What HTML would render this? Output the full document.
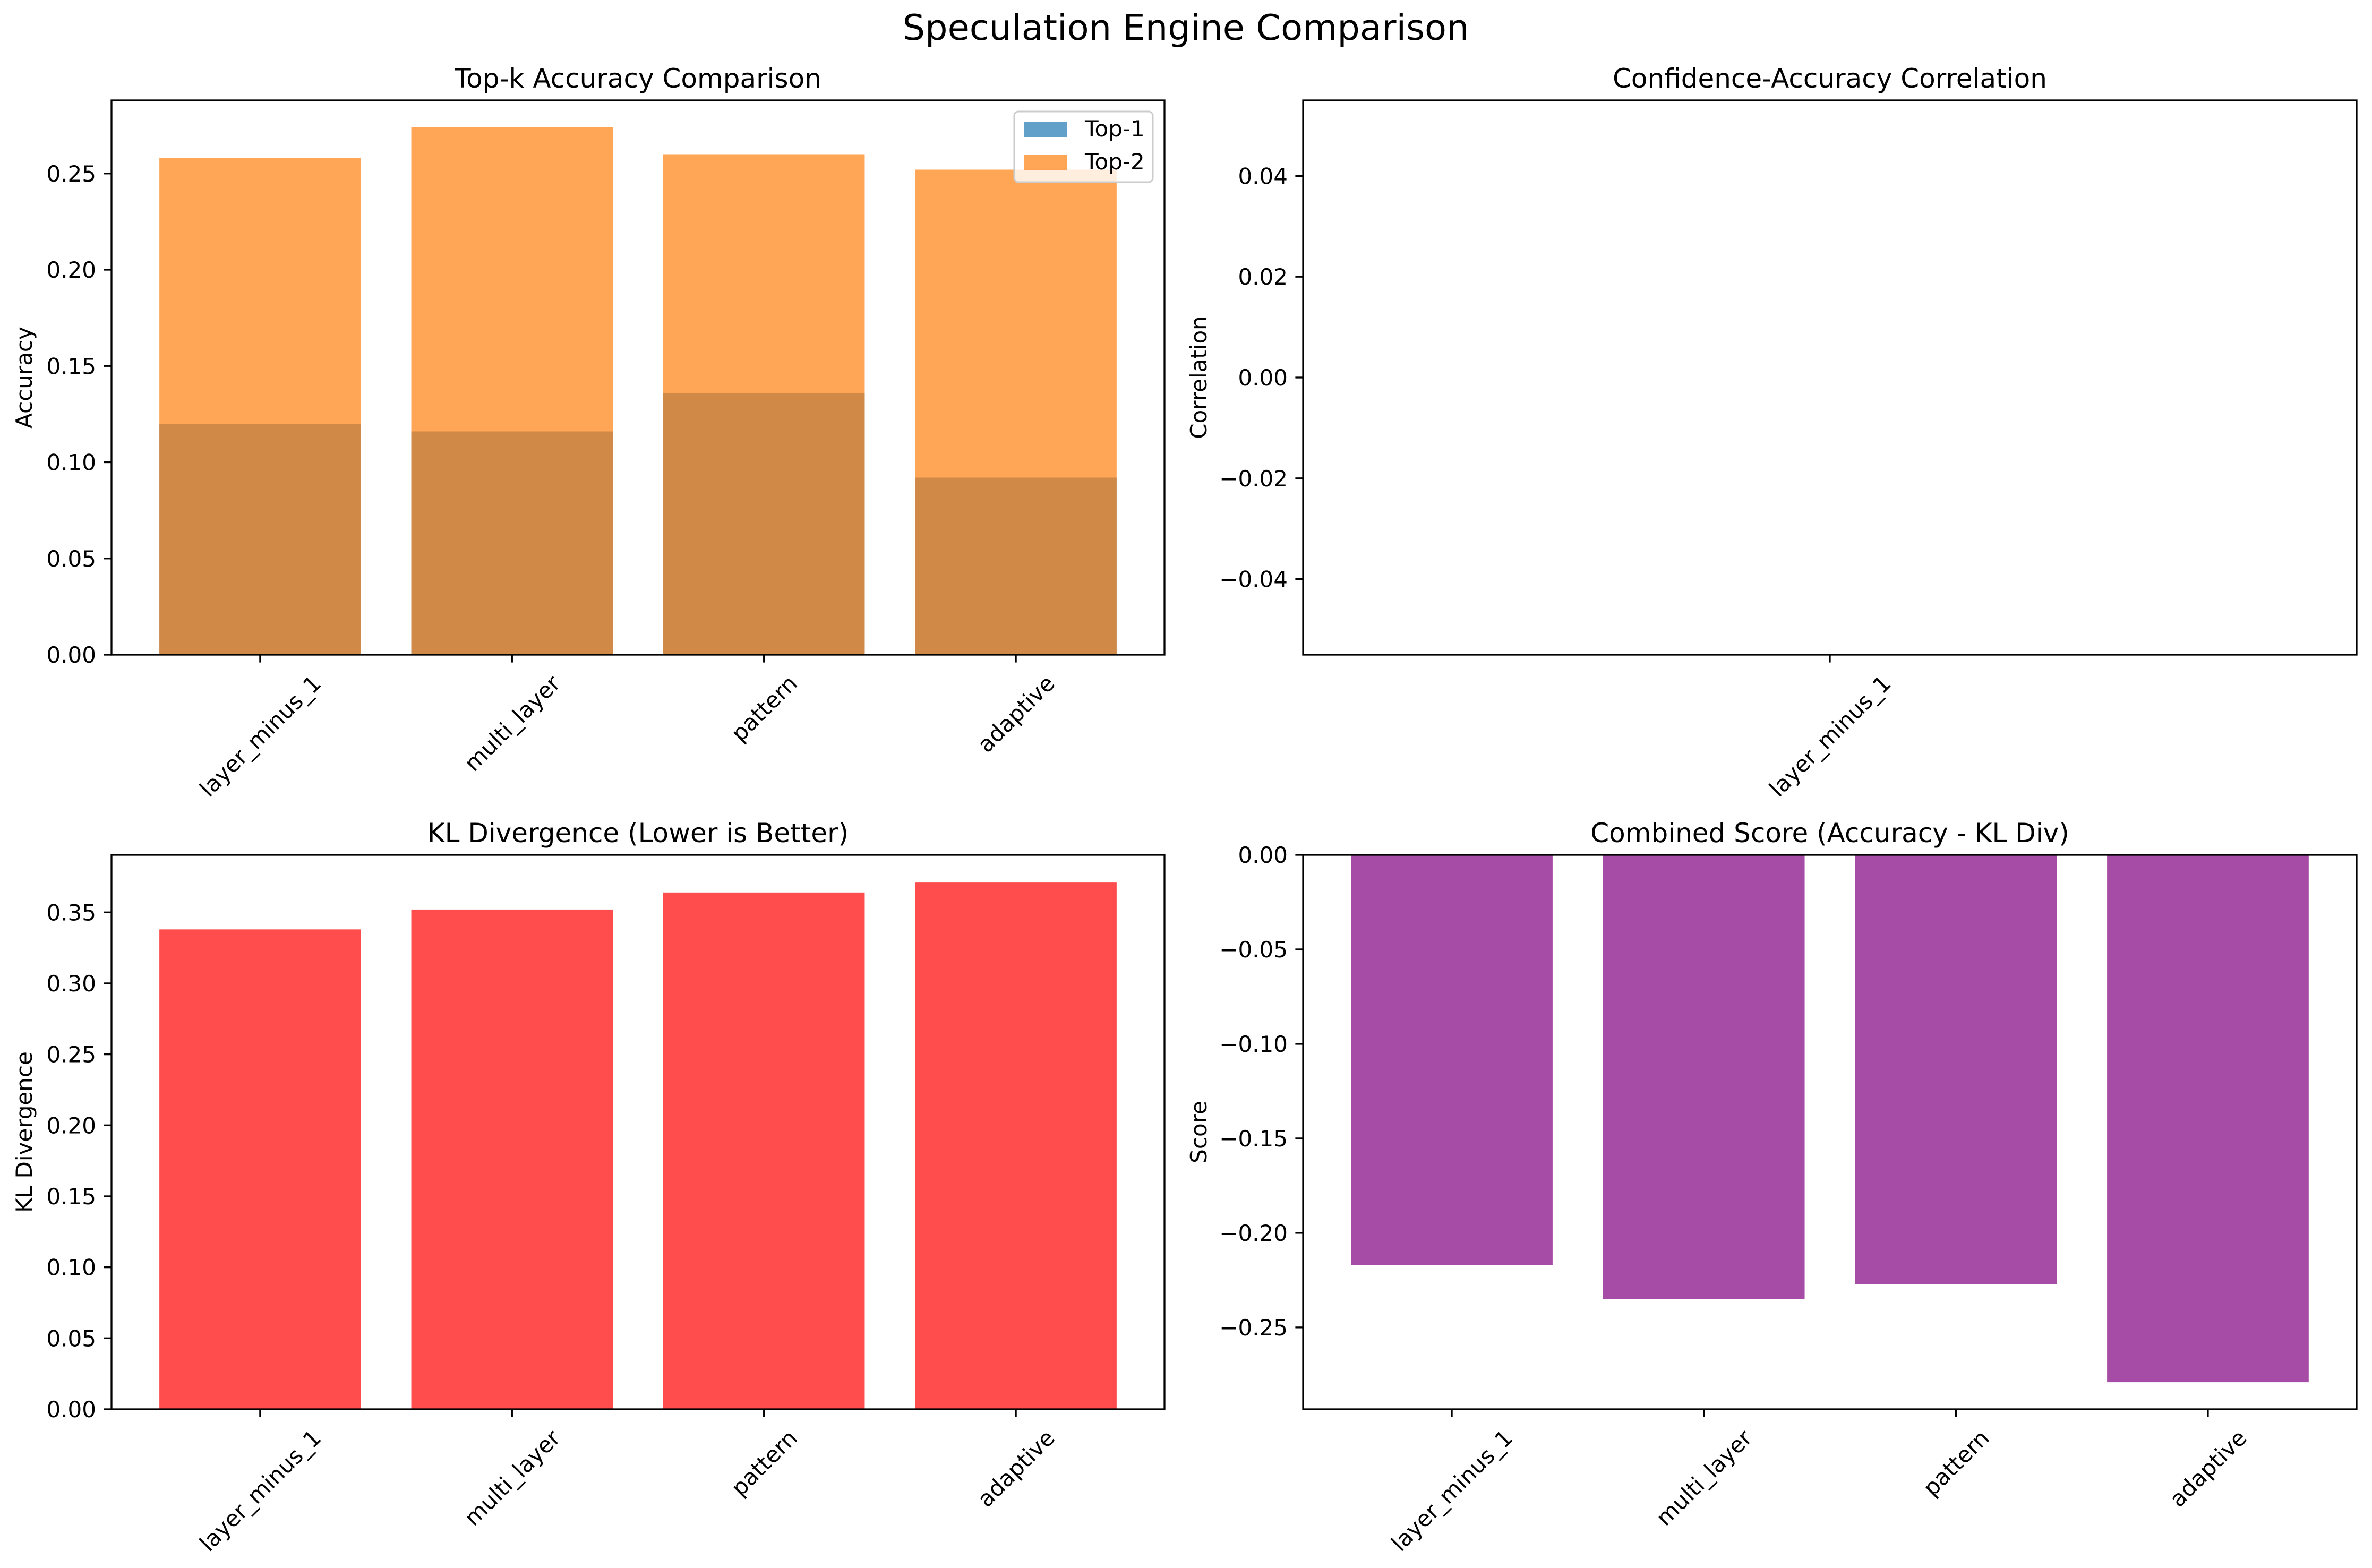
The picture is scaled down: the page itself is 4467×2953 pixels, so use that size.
<!DOCTYPE html>
<html><head><meta charset="utf-8"><style>
html,body{margin:0;padding:0;background:#fff;}
svg{display:block;font-family:"DejaVu Sans","Liberation Sans",sans-serif;}
</style></head><body>
<svg id="fig" width="4467" height="2953" viewBox="0 0 4467 2953" xmlns="http://www.w3.org/2000/svg">
<rect width="4467" height="2953" fill="#fff"/>
<text x="2233" y="75" font-size="67" text-anchor="middle">Speculation Engine Comparison</text>
</svg>
<script>
const categories = ["layer_minus_1","multi_layer","pattern","adaptive"];
const top1Values = [0.120,0.116,0.136,0.092];
const top2Values = [0.258,0.274,0.260,0.252];
const klValues = [0.338,0.352,0.364,0.371];
const scoreValues = [-0.217,-0.235,-0.227,-0.279];
const corrCategories = ["layer_minus_1"];
const accTicks = ["0.00","0.05","0.10","0.15","0.20","0.25"];
const corrTicks = ["−0.04","−0.02","0.00","0.02","0.04"];
const klTicks = ["0.00","0.05","0.10","0.15","0.20","0.25","0.30","0.35"];
const scoreTicks = ["0.00","−0.05","−0.10","−0.15","−0.20","−0.25"];

const NS="http://www.w3.org/2000/svg";
const svg=document.getElementById('fig');
function mk(tag,attrs,parent){const e=document.createElementNS(NS,tag);for(const k in attrs)e.setAttribute(k,attrs[k]);(parent||svg).appendChild(e);return e;}
const TS=42;

function axes(o){
  const g=mk('g',{});
  
  
  const X=v=>o.L+(v-o.x0)/(o.x1-o.x0)*(o.R-o.L);
  const Y=v=>o.B-(v-o.y0)/(o.y1-o.y0)*(o.B-o.T);
  o.draw && o.draw(g,X,Y);
  // frame
  const fr=mk('rect',{x:o.L,y:o.T,width:o.R-o.L,height:o.B-o.T,fill:'none',stroke:'#000','stroke-width':3.3},g);
  
  
  // y ticks
  o.yticks.forEach(lbl=>{
    const v=parseFloat(lbl.replace('−','-'));const y=Y(v);
    mk('line',{x1:o.L-14.6,x2:o.L,y1:y,y2:y,stroke:'#000','stroke-width':3.3},g);
    const t=mk('text',{x:o.L-29,y:y+15,'font-size':TS,'text-anchor':'end'},g);
    
    
    t.textContent=lbl;
  });
  // x ticks
  o.cats.forEach((c,i)=>{
    const x=X(i);
    mk('line',{x1:x,x2:x,y1:o.B,y2:o.B+14.6},g);
    g.lastChild.setAttribute('stroke','#000');g.lastChild.setAttribute('stroke-width',3.3);
    const t=mk('text',{'font-size':TS,'text-anchor':'middle',x:0,y:0},g);
    
    
    t.textContent=c;
    const L=t.getComputedTextLength();const h=TS*1.15;
    const bh=(L+h)*0.7071;
    const cy=o.B+29+bh/2;
    t.setAttribute('transform',`translate(${x},${cy}) rotate(-45) translate(0,${TS*0.36})`);
  });
  const tt=mk('text',{x:(o.L+o.R)/2,y:o.T-24,'font-size':50,'text-anchor':'middle'},g);
  
  
  tt.textContent=o.title;
  const yl=mk('text',{transform:`translate(${o.yx},${(o.T+o.B)/2}) rotate(-90)`,'font-size':TS,'text-anchor':'middle'},g);
  
  
  yl.textContent=o.ylabel;
  return g;
}
function bar(g,X,Y,i,v,color,name){
  const x0=X(i-0.4),x1=X(i+0.4),ya=Y(0),yb=Y(v);
  const r=mk('rect',{x:x0,y:Math.min(ya,yb),width:x1-x0,height:Math.abs(ya-yb),fill:color,'fill-opacity':0.7},g);
  
  
}
axes({name:'topk-accuracy-chart',L:210,R:2193,T:189,B:1233,x0:-0.59,x1:3.59,y0:0,y1:0.288,
 yticks:accTicks,cats:categories,title:'Top-k Accuracy Comparison',ylabel:'Accuracy',yx:60,
 draw:(g,X,Y)=>{
  top1Values.forEach((v,i)=>bar(g,X,Y,i,v,'#1f77b4','bar-top1-'+categories[i]));
  top2Values.forEach((v,i)=>bar(g,X,Y,i,v,'#ff7f0e','bar-top2-'+categories[i]));
 }});
// legend
(function(){
  const g=mk('g',{});
  
  
  mk('rect',{x:1910,y:210,width:261,height:133,rx:8,fill:'#fff','fill-opacity':0.8,stroke:'#ccc','stroke-width':3},g);
  mk('rect',{x:1928,y:229,width:82,height:29,fill:'#1f77b4','fill-opacity':0.7},g);
  mk('rect',{x:1928,y:291,width:82,height:29,fill:'#ff7f0e','fill-opacity':0.7},g);
  const a=mk('text',{x:2043,y:257,'font-size':TS},g);a.textContent='Top-1';
  
  
  const b=mk('text',{x:2043,y:319,'font-size':TS},g);b.textContent='Top-2';
  
  
})();
axes({name:'confidence-correlation-chart',L:2454,R:4438,T:189,B:1233,x0:-0.055,x1:0.055,y0:-0.055,y1:0.055,
 yticks:corrTicks,cats:corrCategories,title:'Confidence-Accuracy Correlation',ylabel:'Correlation',yx:2272});
axes({name:'kl-divergence-chart',L:210,R:2193,T:1610,B:2654,x0:-0.59,x1:3.59,y0:0,y1:0.3905,
 yticks:klTicks,cats:categories,title:'KL Divergence (Lower is Better)',ylabel:'KL Divergence',yx:60,
 draw:(g,X,Y)=>{klValues.forEach((v,i)=>bar(g,X,Y,i,v,'#ff0000','bar-kl-'+categories[i]));}});
axes({name:'combined-score-chart',L:2454,R:4438,T:1610,B:2654,x0:-0.59,x1:3.59,y0:-0.2933,y1:0,
 yticks:scoreTicks,cats:categories,title:'Combined Score (Accuracy - KL Div)',ylabel:'Score',yx:2272,
 draw:(g,X,Y)=>{scoreValues.forEach((v,i)=>bar(g,X,Y,i,v,'#800080','bar-score-'+categories[i]));}});
</script>
</body></html>
